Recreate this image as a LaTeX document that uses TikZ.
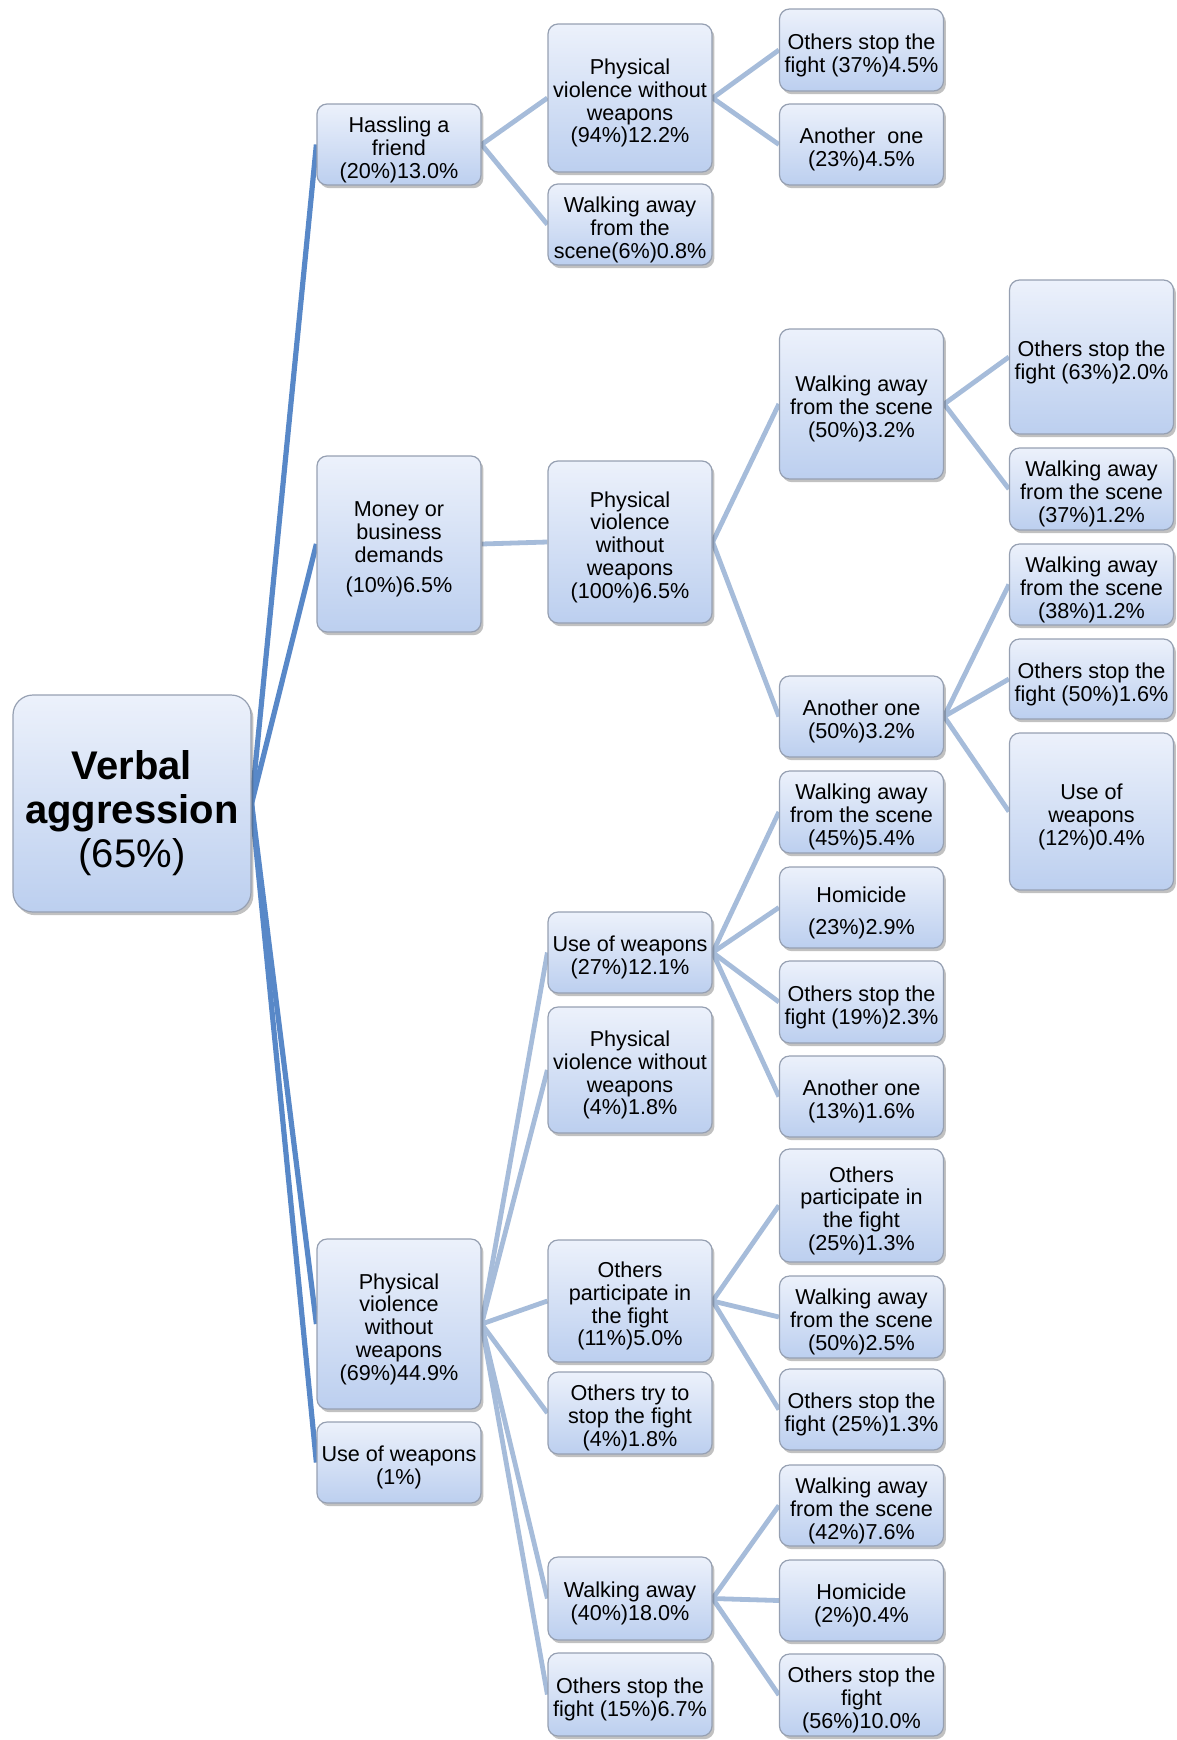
\documentclass[tikz,border=0pt]{standalone}
\usepackage{fontspec}
\setmainfont{Liberation Sans}
\usepackage{xcolor}
\usetikzlibrary{positioning,shadows,backgrounds}

\definecolor{boxtop}{RGB}{236,241,251}
\definecolor{boxbot}{RGB}{188,207,239}
\definecolor{boxline}{RGB}{150,160,178}
\definecolor{rootblue}{RGB}{88,136,200}
\definecolor{branchblue}{RGB}{166,188,218}

% extra room above the first line, so the text sits a little lower
\newcommand{\topgap}{\rule{0pt}{1.2em}}

\begin{document}
\begin{tikzpicture}[x=0.5pt, y=-0.5pt,
    box/.style={rectangle, rounded corners=5pt, draw=boxline, line width=0.6pt,
      top color=boxtop, bottom color=boxbot, minimum width=82pt, inner sep=1pt,
      align=center, font=\fontsize{10.8}{11.4}\selectfont,
      drop shadow={shadow xshift=1.2pt, shadow yshift=-1.6pt, opacity=0.35, fill=black!70}},
    rootline/.style={line width=2.6pt, rootblue},
    branch/.style={line width=2.4pt, branchblue}]
        \useasboundingbox (0,0) rectangle (1177,1740);

        % Root box
        \node[box, rounded corners=10pt, minimum width=119pt, minimum height=108.5pt,
          font=\fontsize{20}{22}\selectfont] (root) at (132,803.5)
          {\topgap\textbf{Verbal}\\\textbf{aggression}\\(65\%)};

        % First column (reactions to verbal aggression)
        \foreach \n/\y/\h/\t in {hass/144.5/81/{Hassling a\\friend\\(20\%)13.0\%},
            money/544/176/{Money or\\business\\demands\\[4pt](10\%)6.5\%},
            pvw/1324/170/{Physical\\violence\\without\\weapons\\(69\%)44.9\%},
            usew/1462.5/81/{Use of weapons\\(1\%)}} {
          \node[box, minimum height=\h*0.5pt] (\n) at (399,\y) {\topgap\t};
        }

        % Second column
        \foreach \n/\y/\h/\t in {pvA/98/148/{Physical\\violence without\\weapons\\(94\%)12.2\%},
            waA/224.5/81/{Walking away\\from the\\scene(6\%)0.8\%},
            pvB/542/162/{Physical\\violence\\without\\weapons\\(100\%)6.5\%},
            uwA/952.5/81/{Use of weapons\\(27\%)12.1\%},
            pvC/1070/126/{Physical\\violence without\\weapons\\(4\%)1.8\%},
            opA/1301/122/{Others\\participate in\\the fight\\(11\%)5.0\%},
            otA/1413/82/{Others try to\\stop the fight\\(4\%)1.8\%},
            waB/1598.5/83/{Walking away\\(40\%)18.0\%},
            osA/1694.5/83/{Others stop the\\fight (15\%)6.7\%}} {
          \node[box, minimum height=\h*0.5pt] (\n) at (630,\y) {\topgap\t};
        }

        % Third column
        \foreach \n/\y/\h/\t in {osB/50/82/{Others stop the\\fight (37\%)4.5\%},
            aoA/144.5/81/{Another~~one\\(23\%)4.5\%},
            waC/404/150/{Walking away\\from the scene\\(50\%)3.2\%},
            aoB/716.5/81/{Another one\\(50\%)3.2\%},
            waD/812/82/{Walking away\\from the scene\\(45\%)5.4\%},
            hoA/907.5/81/{Homicide\\[4.5pt](23\%)2.9\%},
            osC/1002/82/{Others stop the\\fight (19\%)2.3\%},
            aoC/1096.5/81/{Another one\\(13\%)1.6\%},
            opB/1205.5/113/{Others\\participate in\\the fight\\(25\%)1.3\%},
            waE/1317/82/{Walking away\\from the scene\\(50\%)2.5\%},
            osD/1409.5/81/{Others stop the\\fight (25\%)1.3\%},
            waF/1505.5/81/{Walking away\\from the scene\\(42\%)7.6\%},
            hoB/1600.5/81/{Homicide\\(2\%)0.4\%},
            osE/1695/82/{Others stop the\\fight\\(56\%)10.0\%}} {
          \node[box, minimum height=\h*0.5pt] (\n) at (861.5,\y) {\topgap\t};
        }

        % Fourth column
        \foreach \n/\y/\h/\t in {osF/357/154/{Others stop the\\fight (63\%)2.0\%},
            waG/489/82/{Walking away\\from the scene\\(37\%)1.2\%},
            waH/584.5/81/{Walking away\\from the scene\\(38\%)1.2\%},
            osG/679/80/{Others stop the\\fight (50\%)1.6\%},
            uwB/811.5/157/{Use of\\weapons\\(12\%)0.4\%}} {
          \node[box, minimum height=\h*0.5pt] (\n) at (1091.5,\y) {\topgap\t};
        }

        % Connectors, behind the boxes
        \begin{scope}[on background layer]
          \foreach \c in {hass, money, pvw, usew} {
            \draw[rootline] (root.east) -- (\c.west);
          }
          \foreach \a/\b in {hass/pvA, hass/waA, money/pvB,
              pvw/uwA, pvw/pvC, pvw/opA, pvw/otA, pvw/waB, pvw/osA,
              pvA/osB, pvA/aoA, pvB/waC, pvB/aoB,
              uwA/waD, uwA/hoA, uwA/osC, uwA/aoC,
              opA/opB, opA/waE, opA/osD,
              waB/waF, waB/hoB, waB/osE,
              waC/osF, waC/waG, aoB/waH, aoB/osG, aoB/uwB} {
            \draw[branch] (\a.east) -- (\b.west);
          }
        \end{scope}
      \end{tikzpicture}
\end{document}
